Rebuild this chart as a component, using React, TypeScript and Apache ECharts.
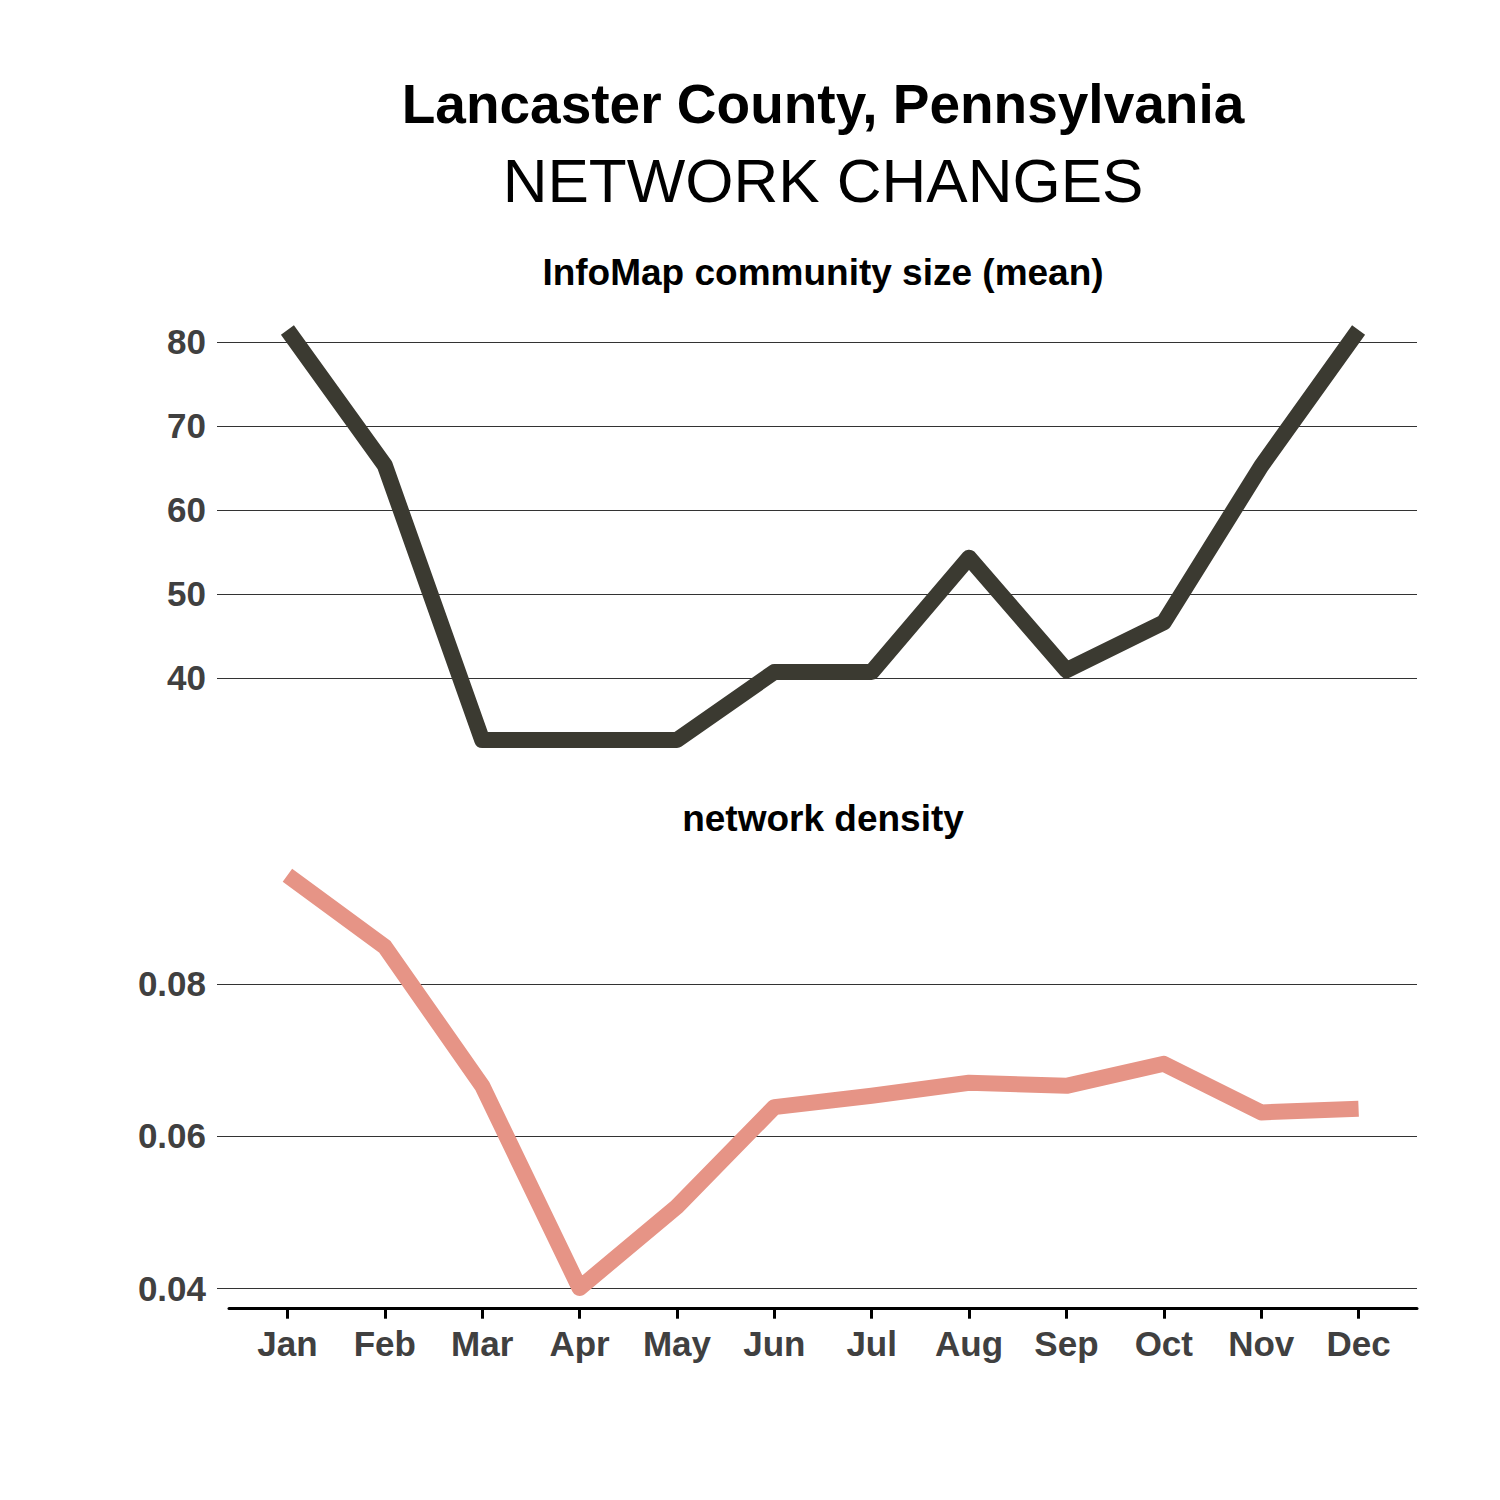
import { useEffect, useRef } from "react";
import * as echarts from "echarts";

const months = ["Jan", "Feb", "Mar", "Apr", "May", "Jun", "Jul", "Aug", "Sep", "Oct", "Nov", "Dec"];
const communitySize = [81.4, 65.3, 32.6, 32.6, 32.6, 40.7, 40.7, 54.3, 40.9, 46.6, 65.2, 81.4];
const density = [0.0943, 0.0849, 0.0666, 0.04, 0.0507, 0.0638, 0.0653, 0.067, 0.0666, 0.0695, 0.0631, 0.0636];
const sizeTicks = [40, 50, 60, 70, 80];
const densityTicks = [0.04, 0.06, 0.08];
const monthIdx = months.map((_, i) => i);

const FONT = "Liberation Sans, Arial, Helvetica, sans-serif";

export default function App() {
  const ref = useRef<HTMLDivElement>(null);
  useEffect(() => {
    if (!ref.current) return;
    const chart = echarts.init(ref.current, null, { renderer: "svg" });
    const yLabel = {
      fontSize: 35,
      fontWeight: "bold",
      color: "#404040",
      fontFamily: FONT,
      margin: 23,
    };
    const yTick = { show: true, inside: false, length: 12, lineStyle: { color: "#333", width: 1 } };
    const yLine = { show: false, onZero: false };
    const split = { show: true, lineStyle: { color: "#333", width: 1 } };
    chart.setOption({
      animation: false,
      backgroundColor: "#ffffff",
      graphic: [
        {
          type: "text",
          x: 823,
          y: 104,
          style: {
            text: "Lancaster County, Pennsylvania",
            font: `bold 55px ${FONT}`,
            fill: "#000",
            align: "center",
            verticalAlign: "middle",
          },
        },
        {
          type: "text",
          x: 823,
          y: 180,
          style: {
            text: "NETWORK CHANGES",
            font: `62px ${FONT}`,
            fill: "#000",
            align: "center",
            verticalAlign: "middle",
          },
        },
        {
          type: "text",
          x: 823,
          y: 272.5,
          style: {
            text: "InfoMap community size (mean)",
            font: `bold 37px ${FONT}`,
            fill: "#000",
            align: "center",
            verticalAlign: "middle",
          },
        },
        {
          type: "text",
          x: 823,
          y: 818,
          style: {
            text: "network density",
            font: `bold 37px ${FONT}`,
            fill: "#000",
            align: "center",
            verticalAlign: "middle",
          },
        },
      ],
      grid: [
        { left: 229, right: 83, top: 309, bottom: 1500 - 761 },
        { left: 229, right: 83, top: 854.6, bottom: 1500 - 1308.7 },
      ],
      xAxis: [
        {
          type: "value",
          gridIndex: 0,
          min: -0.6,
          max: 11.6,
          show: false,
        },
        {
          type: "value",
          gridIndex: 1,
          min: -0.6,
          max: 11.6,
          axisLine: { show: true, onZero: false, lineStyle: { color: "#000", width: 3 } },
          axisTick: { show: true, length: 10, lineStyle: { color: "#000", width: 3 }, customValues: monthIdx },
          axisLabel: {
            customValues: monthIdx,
            formatter: (v: number) => months[Math.round(v)] ?? "",
            fontSize: 35,
            fontWeight: "bold",
            color: "#404040",
            fontFamily: FONT,
            margin: 17,
          },
          splitLine: { show: false },
        },
      ],
      yAxis: [
        {
          type: "value",
          gridIndex: 0,
          min: 30.1,
          max: 83.9,
          axisLine: yLine,
          axisTick: { ...yTick, customValues: sizeTicks },
          axisLabel: { ...yLabel, customValues: sizeTicks },
          splitLine: split,
        },
        {
          type: "value",
          gridIndex: 1,
          min: 0.03728,
          max: 0.09702,
          axisLine: yLine,
          axisTick: { ...yTick, customValues: densityTicks },
          axisLabel: { ...yLabel, customValues: densityTicks, formatter: (v: number) => v.toFixed(2) },
          splitLine: split,
        },
      ],
      series: [
        {
          type: "line",
          xAxisIndex: 0,
          yAxisIndex: 0,
          data: communitySize.map((v, i) => [i, v]),
          showSymbol: false,
          symbol: "none",
          clip: false,
          lineStyle: { color: "#3b3a31", width: 16, cap: "butt", join: "round" },
        },
        {
          type: "line",
          xAxisIndex: 1,
          yAxisIndex: 1,
          data: density.map((v, i) => [i, v]),
          showSymbol: false,
          symbol: "none",
          clip: false,
          lineStyle: { color: "#e69486", width: 16, cap: "butt", join: "round" },
        },
      ],
    });
    return () => chart.dispose();
  }, []);
  return <div ref={ref} style={{ width: 1500, height: 1500, margin: -8 }} />;
}
